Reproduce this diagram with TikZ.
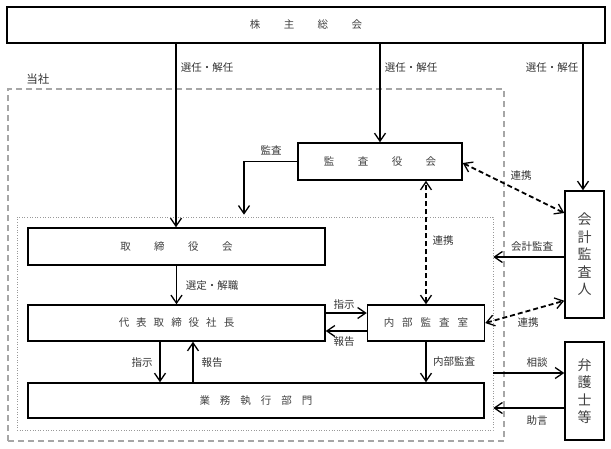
\documentclass[tikz,border=0pt]{standalone}
\usepackage{fontspec}
\setmainfont{Noto Sans CJK JP}
\usetikzlibrary{arrows.meta}
\begin{document}
\begin{tikzpicture}[x=1pt,y=-1pt,
  box/.style={draw=black,line width=1.5pt,inner sep=0pt,text=black!75,font=\fontsize{10.5}{12}\selectfont},
  vbox/.style={draw=black,line width=1.5pt,inner sep=0pt,align=center,text=black!75,font=\fontsize{14}{17.5}\selectfont},
  lbl/.style={inner sep=0pt,text=black!80,font=\fontsize{10.5}{12}\selectfont},
  tip/.tip={Straight Barb[length=8pt,width=11pt,line width=1.3pt]},
  arr/.style={line width=1.3pt,-tip},
  darr/.style={line width=1.8pt,dash pattern=on 5pt off 3pt,tip-tip},
  ln/.style={line width=1.2pt}]
\useasboundingbox (0,0) rectangle (611,448);
% frames
\node[draw=gray!70,line width=1.3pt,dash pattern=on 6pt off 4pt,minimum width=496pt,minimum height=352pt,inner sep=0pt] (outer) at (256,265) {};
\node[draw=gray!80,line width=0.6pt,dotted,minimum width=476pt,minimum height=213pt,inner sep=0pt] (inner) at (255,323.5) {};
% boxes
\node[box,minimum width=598pt,minimum height=36pt] (shm) at (306,25) {株\hspace{23.5pt}主\hspace{23.5pt}総\hspace{23.5pt}会};
\node[box,minimum width=164pt,minimum height=37pt] (kansa) at (380,161.5) {監\hspace{23.5pt}査\hspace{23.5pt}役\hspace{23.5pt}会};
\node[box,minimum width=297pt,minimum height=37pt] (tori) at (176.5,246.5) {取\hspace{23.5pt}締\hspace{23.5pt}役\hspace{23.5pt}会};
\node[box,minimum width=297pt,minimum height=36pt] (dai) at (176.5,323) {代\hspace{7pt}表\hspace{7pt}取\hspace{7pt}締\hspace{7pt}役\hspace{7pt}社\hspace{7pt}長};
\node[box,minimum width=117pt,minimum height=36pt] (naibu) at (426,323) {内\hspace{8pt}部\hspace{8pt}監\hspace{8pt}査\hspace{8pt}室};
\node[box,minimum width=456pt,minimum height=35pt] (gyomu) at (256,400.5) {業\hspace{10pt}務\hspace{10pt}執\hspace{10pt}行\hspace{10pt}部\hspace{10pt}門};
\node[vbox,minimum width=39pt,minimum height=127pt] (kaikei) at (584.5,254.5) {会\\計\\監\\査\\人};
\node[vbox,minimum width=39pt,minimum height=98pt] (bengo) at (584.5,391) {弁\\護\\士\\等};
% labels
\node[lbl] (l1) at (207,68) {選任・解任};
\node[lbl] (l2) at (411,68) {選任・解任};
\node[lbl] (l3) at (552,68) {選任・解任};
\node[inner sep=0pt,text=black!80,font=\fontsize{11.5}{13}\selectfont] (lsha) at (38,79) {当社};
\node[lbl] (lkansa) at (271,150) {監査};
\node[lbl] (lsentei) at (212,286) {選定・解職};
\node[lbl] (lshiji1) at (344,305) {指示};
\node[lbl] (lhoukoku1) at (344,342) {報告};
\node[lbl] (lshiji2) at (142,363) {指示};
\node[lbl] (lhoukoku2) at (212,363) {報告};
\node[lbl] (lnaibu) at (454,362) {内部監査};
\node[lbl] (lrenkei1) at (443,241) {連携};
\node[lbl] (lrenkei2) at (521,176) {連携};
\node[lbl] (lkaikei) at (532,247) {会計監査};
\node[lbl] (lrenkei3) at (528,323) {連携};
\node[lbl] (lsodan) at (537,363) {相談};
\node[lbl] (ljogen) at (537,421) {助言};
% coordinates
\coordinate (kend) at ([xshift=-11pt,yshift=2pt]inner.north);
\coordinate (kk1) at ([yshift=41.5pt]kaikei.west);
\coordinate (kk2) at ([yshift=18pt]kaikei.south west);
\coordinate (kk3) at ([yshift=-2.5pt]kaikei.west);
\coordinate (sodan) at ([yshift=18pt]bengo.west);
\coordinate (jogen) at ([yshift=-17pt]bengo.west);
% connectors
\draw[arr] ([xshift=-0.5pt]tori.north |- shm.south) -- ([xshift=-0.5pt]tori.north);
\draw[arr] (kansa.north |- shm.south) -- (kansa.north);
\draw[arr] ([xshift=-1.5pt]kaikei.north |- shm.south) -- ([xshift=-1.5pt]kaikei.north);
\draw[arr] (kansa.west) -| (kend);
\draw[arr] (tori.south) -- (dai.north);
\draw[arr] ([yshift=10pt]dai.east) -- ([yshift=10pt]naibu.west);
\draw[arr] ([yshift=-8pt]naibu.west) -- ([yshift=-8pt]dai.east);
\draw[arr] ([xshift=-16.5pt]dai.south) -- ([xshift=-16.5pt]dai.south |- gyomu.north);
\draw[arr] ([xshift=16.5pt]dai.south |- gyomu.north) -- ([xshift=16.5pt]dai.south);
\draw[arr] (naibu.south) -- (naibu.south |- gyomu.north);
\draw[darr] (naibu.north) -- (naibu.north |- kansa.south);
\draw[darr] ([yshift=-1.5pt]kansa.east) -- (kk1);
\draw[darr] (naibu.east) -- (kk2);
\draw[arr] (kk3) -- (inner.east |- kk3);
\draw[arr] (inner.east |- sodan) -- (sodan);
\draw[arr] (jogen) -- (inner.east |- jogen);
\end{tikzpicture}
\end{document}
